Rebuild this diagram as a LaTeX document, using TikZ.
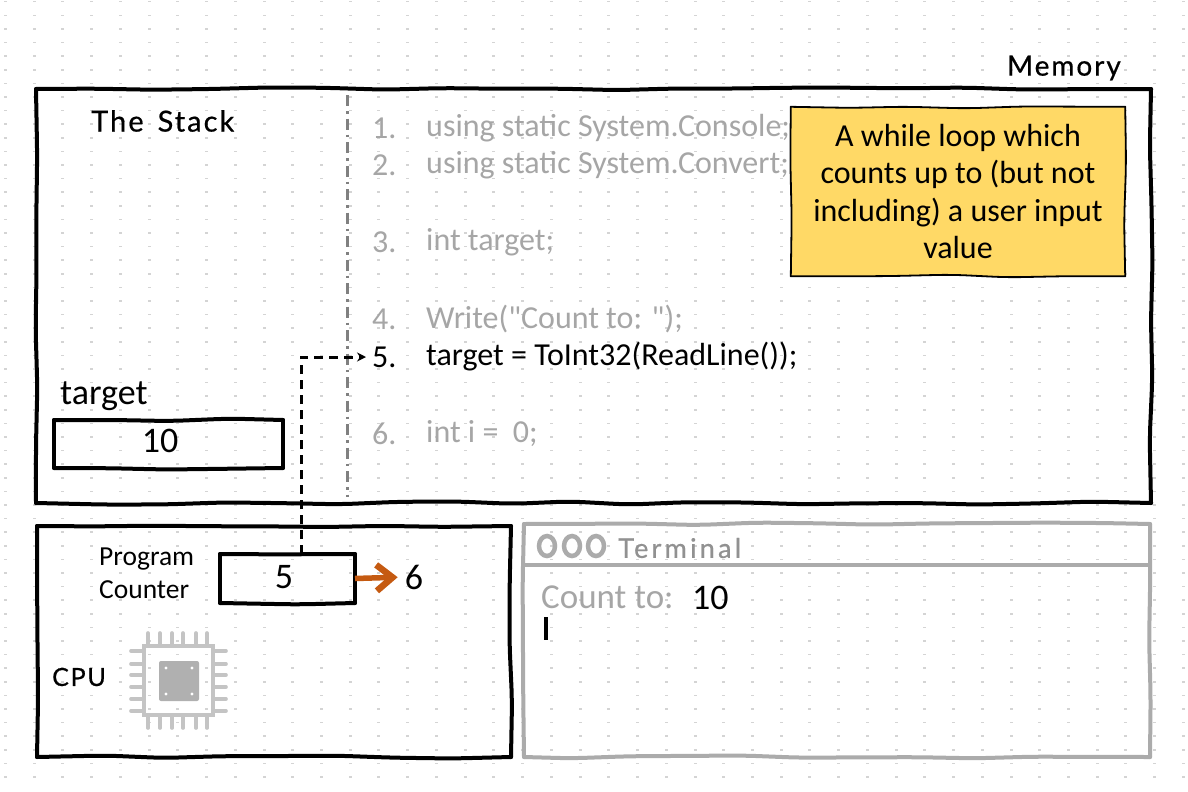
\documentclass[tikz,border=0pt]{standalone}
\usepackage{fontspec}
\setmainfont{Carlito}
\newfontfamily\plainquote{Carlito}
\newfontfamily\handfont[LetterSpace=7,FakeBold=0.6]{Lato}
\newfontfamily\handwide[LetterSpace=12,FakeBold=0.6]{Lato}
\usetikzlibrary{arrows.meta,decorations.pathmorphing,calc,shapes.geometric}
\definecolor{dimtext}{HTML}{A6A6A6}
\definecolor{termline}{HTML}{ABABAB}
\definecolor{divline}{HTML}{808080}
\definecolor{dotc}{HTML}{D4D4D4}
\definecolor{note}{HTML}{FFD966}
\definecolor{orangearrow}{HTML}{C55A11}
\definecolor{chipc}{HTML}{C4C4C4}
\tikzset{
  x=1pt,y=-1pt,
  wobble/.style={decorate,decoration={random steps,segment length=58,amplitude=1.6},rounded corners=14,line cap=round},
  code/.style={anchor=west,inner sep=0,font=\fontsize{32}{32}\selectfont,text=dimtext},
  num/.style={code},
  hand/.style={inner sep=0,font=\handfont\fontsize{28}{28}\selectfont},
  body/.style={inner sep=0,font=\fontsize{36}{36}\selectfont},
  pins/.style={draw=chipc,line width=3.6,line cap=round},
}
\newcommand{\skbox}[7][4]{%
  \pgfmathsetmacro{\bw}{#5-#3}\pgfmathsetmacro{\bh}{#6-#4}
  \node[minimum width=\bw pt,minimum height=\bh pt,inner sep=0,outer sep=0] (#2) at ({(#3+#5)/2},{(#4+#6)/2}) {};
  \draw[wobble,draw=#7,line width=#1pt] (#2.north west) -- (#2.north east);
  \draw[wobble,draw=#7,line width=#1pt] (#2.north east) -- (#2.south east);
  \draw[wobble,draw=#7,line width=#1pt] (#2.south east) -- (#2.south west);
  \draw[wobble,draw=#7,line width=#1pt] (#2.south west) -- (#2.north west);
}
\begin{document}
\begin{tikzpicture}
\pgfmathsetseed{7}
\useasboundingbox (0,0) rectangle (1188,792);
\fill[white] (0,0) rectangle (1188,792);
% dotted paper
\foreach \i in {0,...,41}{\foreach \j in {0,...,57}{
  \fill[dotc] ({4+28.73*\i},{1+13.6*\j}) rectangle ++(3,1.5);
}}
% divider
\coordinate (divtop) at (347,95);
\coordinate (divbot) at (347,497);
\draw[divline,line width=3,dash pattern=on 11pt off 5pt on 2.5pt off 5pt] (divtop) -- (divbot);
% code
\node[num] (n1) at (372,128) {1.};
\node[num] (n2) at (372,165) {2.};
\node[num] (n3) at (372,242) {3.};
\node[num] (n4) at (372,319) {4.};
\node[num,text=black] (n5) at (372,357) {5.};
\node[num] (n6) at (372,434) {6.};
\node[code] (c1) at (426,128) {using static System.Console;};
\node[code] (c2) at (426,165) {using static System.Convert;};
\node[code] (c3) at (426,242) {int target;};
\node[code] (c4) at (426,319) {\plainquote Write("Count to: ");};
\node[code,text=black] (c5) at (426,357) {target = ToInt32(ReadLine());};
\node[code] (c6) at (426,434) {int i =\ \ 0;};
% boxes
\skbox{mem}{36}{89}{1151}{503}{black}
\skbox{cpu}{37}{526}{511}{757}{black}
\skbox{term}{524}{524}{1150}{757}{termline}
\skbox{targetbox}{54}{420}{283}{468}{black}
\skbox{pc}{220}{554}{355}{603}{black}
\coordinate (termheadL) at (524,565);
\coordinate (termheadR) at (1150,565);
\draw[termline,line width=4] (termheadL) -- (termheadR);
% note
\node[fill=note,minimum width=334pt,minimum height=169pt,inner sep=0,align=center,font=\fontsize{32}{37.6}\selectfont] (note) at (958,191.5) {A while loop which\\counts up to (but not\\including) a user input\\value};
\draw[wobble,line width=1.8] (note.north west) -- (note.north east);
\draw[wobble,line width=1.8] (note.north east) -- (note.south east);
\draw[wobble,line width=1.8] (note.south east) -- (note.south west);
\draw[wobble,line width=1.8] (note.south west) -- (note.north west);
% labels
\node[hand,anchor=east] (memlabel) at (1121,68) {Memory};
\node[hand,font=\handfont\fontsize{29}{29}\selectfont,anchor=west] (stacklabel) at (91,121) {The\hspace{14pt}Stack};
\node[body,anchor=west] (targetlabel) at (60,396) {target};
\node[body] (tenval) at (160,441) {10};
\node[body,font=\fontsize{27.5}{33}\selectfont,align=left,anchor=west] (pclabel) at (99,573.5) {Program\\Counter};
\node[body] (five) at (284,577) {5};
\node[body] (six) at (414,577) {6};
\node[hand,font=\handfont\fontsize{25}{25}\selectfont,anchor=west] (cpulabel) at (52,677) {CPU};
% terminal
\foreach \cx/\nm in {547/a,572/b,596/c}{
  \node[draw=termline,line width=4.5,inner sep=0,ellipse,minimum width=16pt,minimum height=20pt] (dot\nm) at (\cx,546) {};
}
\node[hand,font=\handwide\fontsize{27}{27}\selectfont,anchor=west,text=termline!85!black] (termlabel) at (618,548) {Terminal};
\node[code,font=\fontsize{35}{35}\selectfont] (countto) at (541,597) {Count to:};
\node[body,anchor=west] (countval) at (692,598) {10};
\node[fill=black,minimum width=4pt,minimum height=23pt,inner sep=0] (cursor) at (545.5,628) {};
% connectors
\coordinate (bend) at (301,355);
\draw[line width=3,dash pattern=on 9pt off 6pt,-{Stealth[length=9pt,width=9pt]},shorten >=6pt] (pc.north -| bend) -- (bend |- n5.west) -- (n5.west);
\draw[orangearrow,line width=5.5,shorten >=7pt,-{Straight Barb[length=16pt,width=26pt,line width=6.5pt]}] (pc.east) -- (six.west);
% chip
\node[draw=chipc,line width=4,minimum size=69pt,inner sep=0] (chip) at (178,680) {};
\node[fill=chipc!90!black,rounded corners=2,minimum size=40pt,inner sep=0] (chipcore) at (179,681) {};
\foreach \dx in {-13,13}{\foreach \dy in {-13,13}{\fill[white] ($(chipcore)+(\dx,\dy)$) circle (1.6);}}
\foreach \p in {148,160,172,183,196,207}{
  \draw[pins] (\p,633) -- (\p,645);
  \draw[pins] (\p,715) -- (\p,728);
}
\foreach \p in {651,664,675,687,699,711}{
  \draw[pins] (131,\p) -- (143,\p);
  \draw[pins] (213,\p) -- (226,\p);
}
\end{tikzpicture}
\end{document}
